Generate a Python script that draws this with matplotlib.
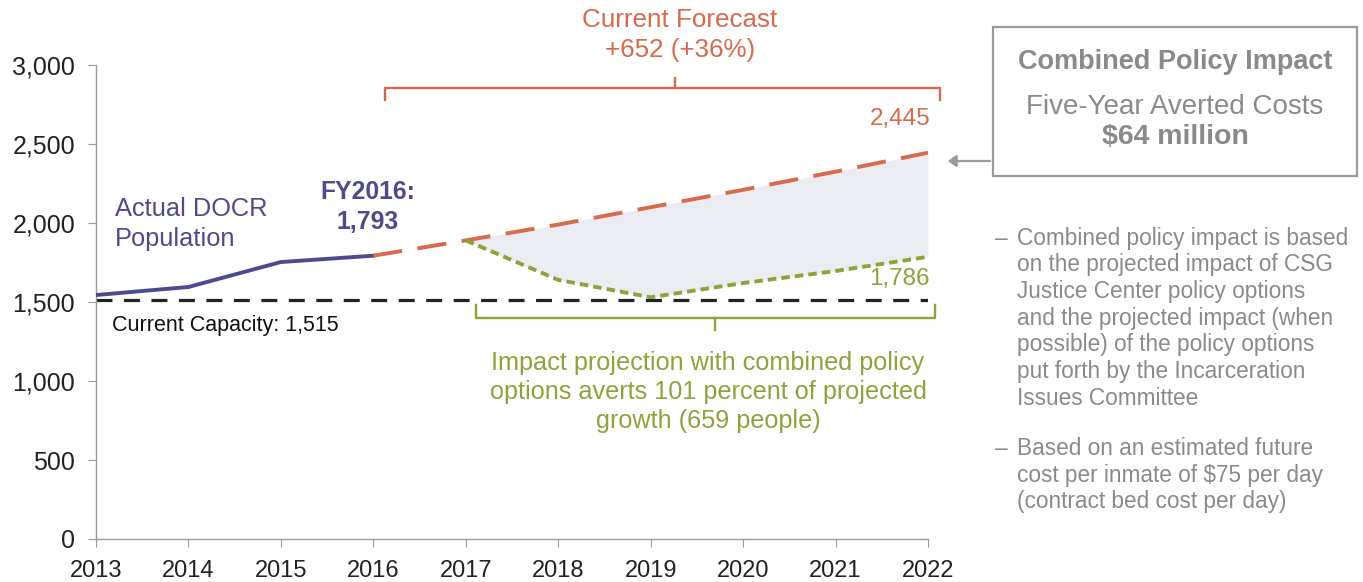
import numpy as np
import matplotlib.pyplot as plt
from matplotlib.patches import FancyArrowPatch, Rectangle

plt.rcParams['font.family'] = ['Liberation Sans', 'DejaVu Sans']

# population data
actual_years = [2013, 2014, 2015, 2016]
actual_pop = [1544, 1595, 1753, 1793]

forecast_years = [2016, 2017, 2018, 2019, 2020, 2021, 2022]
forecast_pop = [1793, 1890, 1990, 2100, 2210, 2325, 2445]

impact_years = [2017, 2018, 2019, 2020, 2021, 2022]
impact_pop = [1890, 1640, 1530, 1620, 1696, 1786]

capacity = 1515

yticks = [0, 500, 1000, 1500, 2000, 2500, 3000]
xticks = list(range(2013, 2023))

bullets = [
    ["Combined policy impact is based",
     "on the projected impact of CSG",
     "Justice Center policy options",
     "and the projected impact (when",
     "possible) of the policy options",
     "put forth by the Incarceration",
     "Issues Committee"],
    ["Based on an estimated future",
     "cost per inmate of $75 per day",
     "(contract bed cost per day)"],
]

PURPLE = '#4d4a8f'
ORANGE = '#d8694b'
GREEN = '#8da43b'
GREY = '#8a8a8a'
FILL = '#eaecf1'

W, H = 1363, 582
fig = plt.figure(figsize=(W / 100, H / 100), dpi=100)


def px(x, y):
    return x / W, 1 - y / H


ax = fig.add_axes([96 / W, 1 - 539 / H, (928 - 96) / W, (539 - 65) / H])
ax.set_xlim(2013, 2022)
ax.set_ylim(0, 3000)

f_y = np.interp(impact_years, forecast_years, forecast_pop)
ax.fill_between(impact_years, impact_pop, f_y, color=FILL, lw=0, zorder=1)

ax.axhline(capacity, color='#222222', lw=2.3, dashes=(5, 3.6), zorder=2)
ax.plot(actual_years, actual_pop, color=PURPLE, lw=2.8, zorder=3)
ax.plot(forecast_years, forecast_pop, color=ORANGE, lw=2.8, dashes=(7.5, 4), zorder=3)
ax.plot(impact_years, impact_pop, color=GREEN, lw=2.8, dashes=(2.2, 1.3), zorder=3)

for s in ['top', 'right']:
    ax.spines[s].set_visible(False)
for s in ['left', 'bottom']:
    ax.spines[s].set_color('#9a9a9a')
    ax.spines[s].set_linewidth(1)
ax.set_xticks(xticks)
ax.set_yticks(yticks)
ax.set_yticklabels([f'{v:,}' for v in yticks])
ax.tick_params(colors='#9a9a9a', labelcolor='#222222', length=6)
ax.tick_params(axis='y', labelsize=18, pad=9)
ax.tick_params(axis='x', labelsize=17, pad=9)


# brackets
def bracket(x0, x1, xm, y, yend, ytip, color):
    ax.plot([x0, x0, x1, x1], [yend, y, y, yend], color=color, lw=1.7, clip_on=False)
    ax.plot([xm, xm], [y, ytip], color=color, lw=1.7, clip_on=False)


bracket(2016.13, 2022.13, 2019.26, 2854, 2778, 2918, ORANGE)
bracket(2017.11, 2022.08, 2019.70, 1399, 1481, 1323, GREEN)

fig.text(*px(680, 20), 'Current Forecast', color=ORANGE, fontsize=18.7, ha='center', va='center')
fig.text(*px(680, 50), f'+{forecast_pop[-1] - forecast_pop[0]} (+36%)', color=ORANGE,
         fontsize=18.7, ha='center', va='center')
ax.annotate(f'{forecast_pop[-1]:,}', (forecast_years[-1], forecast_pop[-1]),
            xytext=(2, 16), textcoords='offset points', ha='right', va='bottom',
            color=ORANGE, fontsize=17.5, annotation_clip=False)
ax.annotate(f'{impact_pop[-1]:,}', (impact_years[-1], impact_pop[-1]),
            xytext=(1, -8), textcoords='offset points', ha='right', va='top',
            color=GREEN, fontsize=17.5, annotation_clip=False)

fig.text(*px(368, 192), 'FY2016:', color=PURPLE, fontsize=17.8, fontweight='bold',
         ha='center', va='center')
fig.text(*px(368, 222), f'{actual_pop[-1]:,}', color=PURPLE, fontsize=17.8, fontweight='bold',
         ha='center', va='center')
fig.text(*px(115, 209), 'Actual DOCR', color=PURPLE, fontsize=18.3, ha='left', va='center')
fig.text(*px(115, 239), 'Population', color=PURPLE, fontsize=18.3, ha='left', va='center')
fig.text(*px(112, 325), f'Current Capacity: {capacity:,}', color='#111111', fontsize=15.5,
         ha='left', va='center')

green_lines = ['Impact projection with combined policy',
               'options averts 101 percent of projected',
               f'growth ({forecast_pop[-1] - impact_pop[-1]} people)']
for i, line in enumerate(green_lines):
    fig.text(*px(708, 363 + 29 * i), line, color=GREEN, fontsize=18.2, ha='center', va='center')

# summary box
x0, y0 = px(993, 176)
x1, y1 = px(1357, 27)
fig.patches.append(Rectangle((x0, y0), x1 - x0, y1 - y0, transform=fig.transFigure,
                             fill=False, edgecolor='#9a9a9a', lw=1.6))
fig.text(*px(1175, 62), 'Combined Policy Impact', color=GREY, fontsize=19.5, fontweight='bold',
         ha='center', va='center')
fig.text(*px(1175, 107), 'Five-Year Averted Costs', color=GREY, fontsize=20, ha='center', va='center')
fig.text(*px(1175, 137), '$64 million', color=GREY, fontsize=20.5, fontweight='bold',
         ha='center', va='center')
fig.patches.append(FancyArrowPatch(
    px(993, 161), px(945, 161), transform=fig.transFigure,
    arrowstyle='-|>,head_length=5,head_width=3.5', color='#9a9a9a', lw=1.6))

y = 238
for block in bullets:
    fig.text(*px(995, y), '–', color=GREY, fontsize=16.3, ha='left', va='center')
    for line in block:
        fig.text(*px(1017, y), line, color=GREY, fontsize=16.3, ha='left', va='center')
        y += 26.7
    y += 23.5

fig.savefig('out.png', dpi=100)
